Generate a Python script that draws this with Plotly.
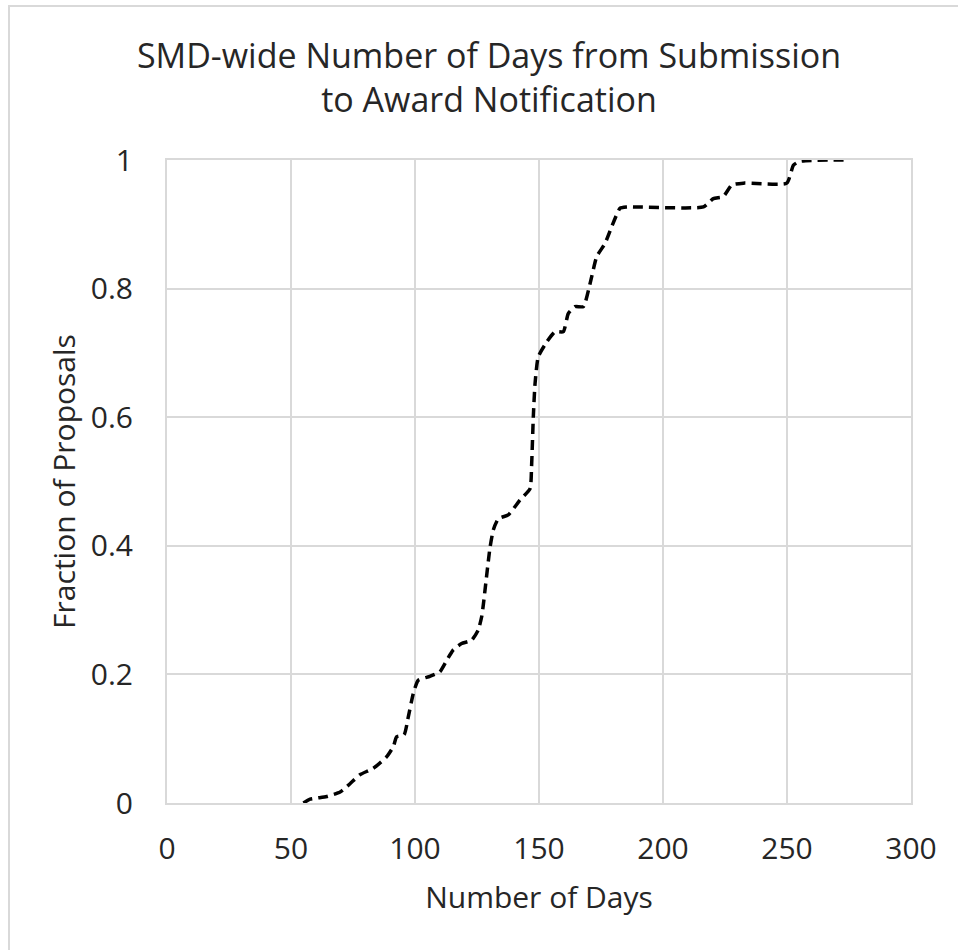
import plotly.graph_objects as go

days = [55, 57.7, 64.4, 69.8, 73.8, 77.8, 83.2, 88.6, 91.3, 92.6, 95.6, 97.3, 99.3, 101.3,
        106, 110, 112.8, 115.4, 118.8, 122.8, 125.5, 126.9, 127.6, 130.2, 131.6, 133.6,
        137.6, 142.3, 146.4, 147, 147.7, 148.4, 149.7, 153.1, 156.5, 159.8, 161.8, 164.5,
        167.9, 170.6, 173.3, 176.6, 179.3, 182.7, 185.4, 216.3, 220.3, 224.3, 227.7,
        232.4, 249.9, 252.6, 255.2, 274]
fraction = [0.0, 0.006, 0.01, 0.017, 0.03, 0.044, 0.054, 0.072, 0.088, 0.103, 0.106, 0.134,
            0.17, 0.191, 0.197, 0.204, 0.222, 0.238, 0.248, 0.253, 0.269, 0.29, 0.31, 0.396,
            0.425, 0.442, 0.448, 0.471, 0.489, 0.523, 0.6, 0.652, 0.694, 0.717, 0.733, 0.733,
            0.761, 0.772, 0.772, 0.808, 0.85, 0.87, 0.896, 0.925, 0.927, 0.927, 0.94, 0.943,
            0.961, 0.964, 0.964, 0.992, 0.998, 1.0]

x_ticks = [0, 50, 100, 150, 200, 250, 300]
y_ticks = [0, 0.2, 0.4, 0.6, 0.8, 1]

FONT = "Open Sans"
GRID = "#d9d9d9"
TXT = "#262626"

fig = go.Figure()
fig.add_trace(go.Scatter(
    x=days, y=fraction, mode="lines",
    line=dict(color="black", width=3.5, dash="10px,6px", shape="spline", smoothing=0.5),
    showlegend=False, hoverinfo="skip"))

L, R, T, B = 167, 47, 160, 147
W, H = 958, 950
pw, ph = W - L - R, H - T - B

fig.update_layout(
    width=W, height=H,
    margin=dict(l=L, r=R, t=T, b=B),
    paper_bgcolor="white", plot_bgcolor="white",
    font=dict(family=FONT, color=TXT),
    title=dict(text="SMD-wide Number of Days from Submission<br>to Award Notification",
               x=489 / W, xanchor="center", y=1 - 68 / H, yanchor="middle",
               font=dict(size=34, family=FONT, color=TXT)),
    xaxis=dict(range=[0, 300], tickvals=x_ticks, showgrid=True, gridcolor=GRID, gridwidth=2,
               zeroline=False, showline=True, linecolor=GRID, linewidth=2, mirror=True,
               tickfont=dict(size=30, family=FONT, color=TXT), ticklabelstandoff=18,
               title=dict(text="Number of Days", font=dict(size=30, family=FONT, color=TXT),
                          standoff=20)),
    yaxis=dict(range=[0, 1], tickvals=y_ticks, showgrid=True, gridcolor=GRID, gridwidth=2,
               zeroline=False, showline=True, linecolor=GRID, linewidth=2, mirror=True,
               tickfont=dict(size=30, family=FONT, color=TXT), ticklabelstandoff=26,
               title=dict(text="Fraction of Proposals", font=dict(size=30, family=FONT, color=TXT),
                          standoff=6)),
    shapes=[dict(type="rect", xref="paper", yref="paper",
                 x0=(9 - L) / pw, x1=(W + 10 - L) / pw,
                 y0=(H - B - (H + 10)) / ph, y1=(H - B - 6) / ph,
                 line=dict(color=GRID, width=2), fillcolor="rgba(0,0,0,0)", layer="below")],
)

fig.write_html("out.html", config={"displayModeBar": False},
               post_script="document.body.style.margin='0';")
